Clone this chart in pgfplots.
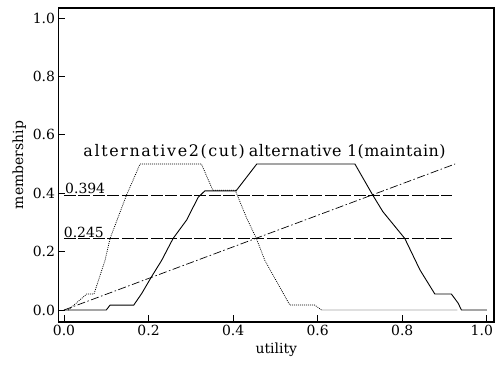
\documentclass[border=0pt]{standalone}
\usepackage{fontspec}
\setmainfont{DejaVu Serif}
\usepackage{pgfplots}
\pgfplotsset{compat=1.18}
\begin{document}
\begin{tikzpicture}
\begin{axis}[
  scale only axis, width=435.5bp, height=314bp,
  xmin=-0.013, xmax=1.017, ymin=-0.041, ymax=1.034,
  axis line style={line width=1.2pt},
  xtick={0,0.2,0.4,0.6,0.8}, ytick={0,0.2,0.4,0.6,0.8,1.0},
  extra x ticks={1.0},
  extra x tick style={xticklabel style={xshift=-5bp}},
  tick align=inside, xtick pos=left, ytick pos=left,
  major tick length=7bp,
  every tick/.style={black, line width=0.8pt},
  /pgf/number format/assume math mode=true,
  /pgf/number format/fixed,
  /pgf/number format/fixed zerofill,
  /pgf/number format/precision=1,
  tick label style={font=\fontsize{14}{16}\selectfont},
  xlabel={utility}, ylabel={membership},
  label style={font=\fontsize{14}{16}\selectfont},
  clip=false,
]
% alternative 1 (maintain)
\addplot[black, line width=0.9pt] coordinates {
 (0,0) (0.100,0) (0.109,0.017) (0.165,0.017) (0.184,0.057) (0.207,0.114)
 (0.231,0.17) (0.258,0.245) (0.29,0.308) (0.317,0.385) (0.333,0.408)
 (0.407,0.408) (0.456,0.5) (0.688,0.5) (0.73,0.394) (0.754,0.337)
 (0.806,0.245) (0.842,0.137) (0.877,0.055) (0.916,0.055) (0.932,0.024)
 (0.94,0) (1.0,0)
};
% alternative 2 (cut)
\addplot[black, line width=0.75pt, dash pattern=on 0.9bp off 1.1bp] coordinates {
 (0.01,0) (0.054,0.055) (0.071,0.055) (0.097,0.17) (0.109,0.245)
 (0.148,0.394) (0.18,0.5) (0.325,0.5) (0.352,0.41) (0.405,0.41)
 (0.432,0.315) (0.455,0.245) (0.475,0.17) (0.534,0.017) (0.593,0.017)
 (0.609,0) (0.93,0)
};
% diagonal
\addplot[black, line width=0.7pt, dash pattern=on 8bp off 2.5bp on 1.5bp off 2.5bp] coordinates {
 (0,0) (0.925,0.5)
};
% alpha levels
\addplot[black, line width=0.8pt, dash pattern=on 12bp off 2.5bp] coordinates {
 (0,0.394) (0.917,0.394)
};
\addplot[black, line width=0.8pt, dash pattern=on 12bp off 2.5bp] coordinates {
 (0,0.245) (0.917,0.245)
};
\node[anchor=south west, inner sep=1bp, font=\fontsize{14}{16}\selectfont] at (axis cs:0.0,0.394) {0.394};
\node[anchor=south west, inner sep=1bp, font=\fontsize{14}{16}\selectfont] at (axis cs:-0.003,0.245) {0.245};
\node[anchor=base, font=\fontsize{16}{18}\selectfont\addfontfeatures{LetterSpace=10}] at (axis cs:0.237,0.527) {alternative2(cut)};
\node[anchor=base, font=\fontsize{16}{18}\selectfont\addfontfeatures{LetterSpace=3}] at (axis cs:0.67,0.527) {alternative 1(maintain)};
\end{axis}
\pgfresetboundingbox
\useasboundingbox ([xshift=-58.5bp,yshift=-45bp]current axis.south west) rectangle ++(496bp,367bp);
\end{tikzpicture}
\end{document}
